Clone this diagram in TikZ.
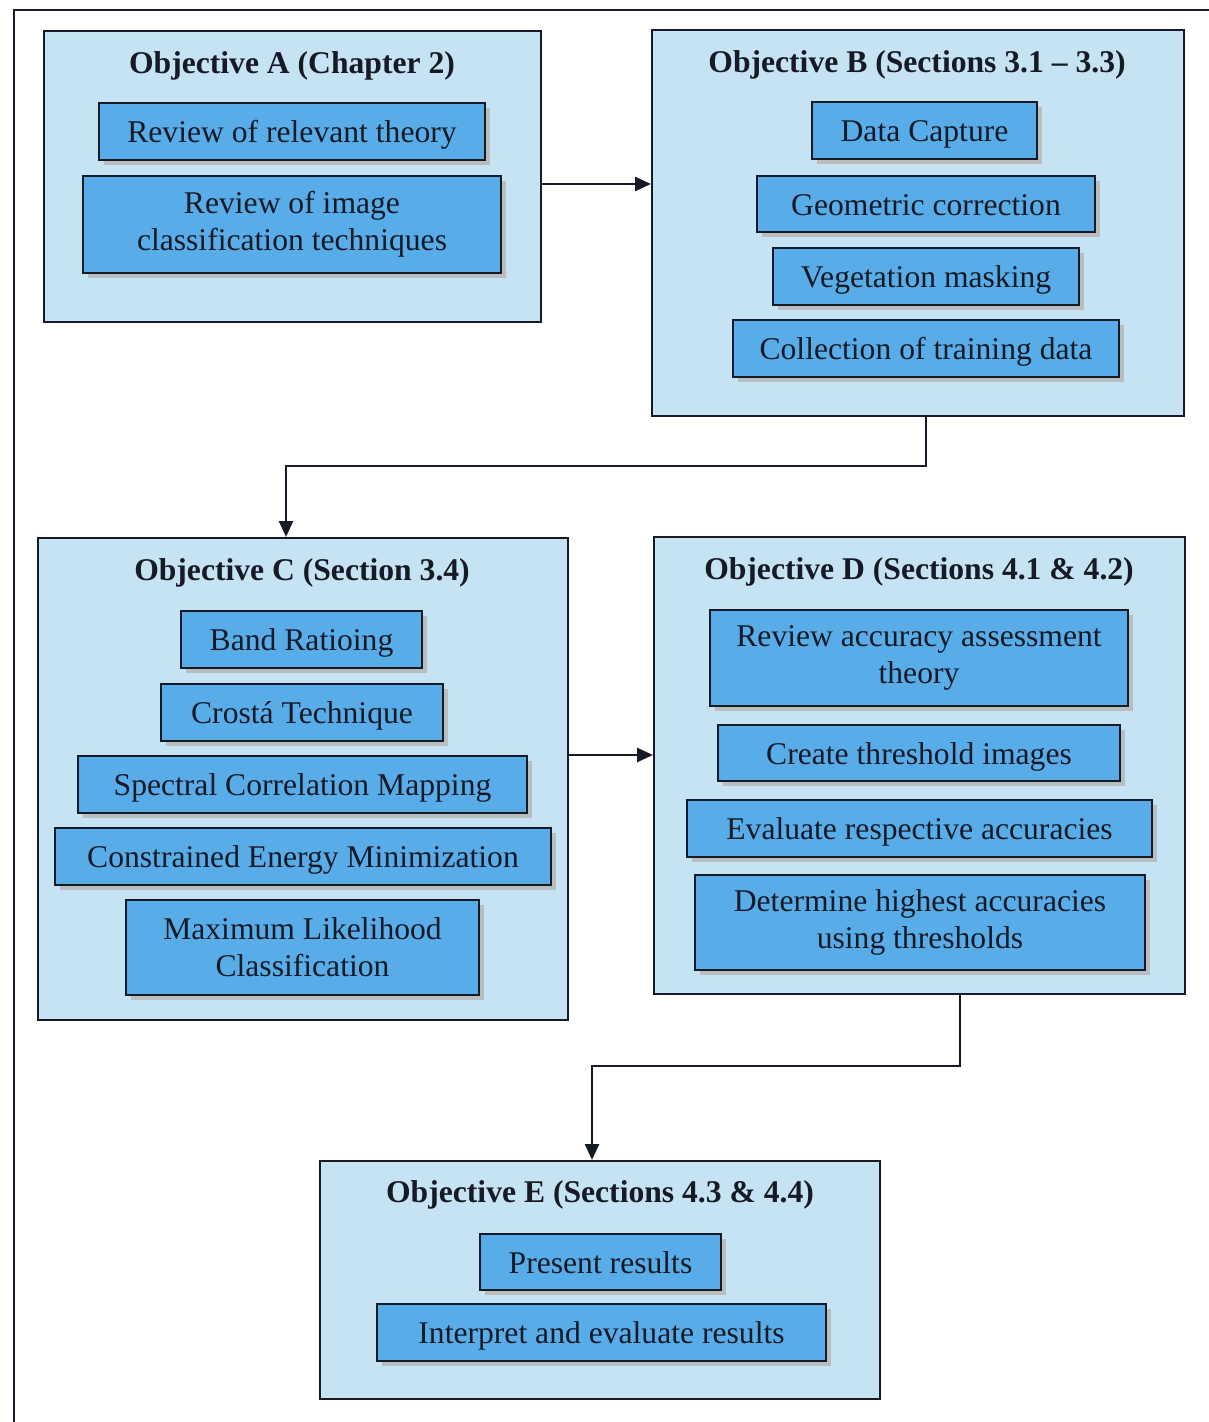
\documentclass[tikz,border=0pt]{standalone}
\usepackage{fontspec}
\setmainfont{Liberation Serif}
\usetikzlibrary{shadows,arrows.meta}

\definecolor{paleblue}{RGB}{198,227,243}
\definecolor{taskblue}{RGB}{88,172,232}
\definecolor{inkdark}{RGB}{22,26,38}

\begin{document}
\begin{tikzpicture}[x=0.02cm, y=-0.02cm,
    objective/.style={draw=inkdark, line width=1.3pt, fill=paleblue, inner sep=0pt},
    taskbase/.style={draw=inkdark, line width=1.3pt, fill=taskblue, inner sep=2pt, align=center,
        text=inkdark, font=\fontsize{18}{21}\selectfont,
        drop shadow={shadow xshift=3pt, shadow yshift=-3pt, fill=gray!55, opacity=.9}},
    task/.style={taskbase, text height=16pt, text depth=3pt},
    tasktall/.style={taskbase, execute at begin node={\rule{0pt}{16pt}}},
    heading/.style={font=\fontsize{18}{21}\selectfont\bfseries, text=inkdark},
    flow/.style={draw=inkdark, line width=1.2pt, -{Triangle[length=9pt,width=8pt]}}]
            \useasboundingbox (0,0) rectangle (1209,1422);
            \clip (0,0) rectangle (1209,1422);
            \draw[inkdark, line width=1pt] (14,10) rectangle (1260,1480);
            % objectives
            \node[objective, minimum width=9.94cm, minimum height=5.82cm] (objA) at (292.5,176.5) {};
            \node[objective, minimum width=10.64cm, minimum height=7.72cm] (objB) at (918,223) {};
            \node[objective, minimum width=10.6cm, minimum height=9.64cm] (objC) at (303,779) {};
            \node[objective, minimum width=10.62cm, minimum height=9.14cm] (objD) at (919.5,765.5) {};
            \node[objective, minimum width=11.2cm, minimum height=4.76cm] (objE) at (600,1280) {};
            \node[heading] (titleA) at (292,66) {Objective A (Chapter 2)};
            \node[heading] (titleB) at (917,65) {Objective B (Sections 3.1 -- 3.3)};
            \node[heading] (titleC) at (302,573) {Objective C (Section 3.4)};
            \node[heading] (titleD) at (919,572) {Objective D (Sections 4.1 \& 4.2)};
            \node[heading] (titleE) at (600,1195) {Objective E (Sections 4.3 \& 4.4)};
            % tasks
            \node[task, minimum width=7.72cm, minimum height=1.14cm] (taskA1) at (292,131.5) {Review of relevant theory};
            \node[tasktall, minimum width=8.36cm, minimum height=1.94cm] (taskA2) at (292,224.5) {Review of image\\classification techniques};
            \node[task, minimum width=4.5cm, minimum height=1.14cm] (taskB1) at (924.5,130.5) {Data Capture};
            \node[task, minimum width=6.76cm, minimum height=1.12cm] (taskB2) at (926,204) {Geometric correction};
            \node[task, minimum width=6.12cm, minimum height=1.14cm] (taskB3) at (926,276.5) {Vegetation masking};
            \node[task, minimum width=7.72cm, minimum height=1.14cm] (taskB4) at (926,348.5) {Collection of training data};
            \node[task, minimum width=4.82cm, minimum height=1.14cm] (taskC1) at (301.5,639.5) {Band Ratioing};
            \node[task, minimum width=5.64cm, minimum height=1.14cm] (taskC2) at (302,712.5) {Crost\'a Technique};
            \node[task, minimum width=8.98cm, minimum height=1.14cm] (taskC3) at (302.5,784.5) {Spectral Correlation Mapping};
            \node[task, minimum width=9.92cm, minimum height=1.14cm] (taskC4) at (303,856.5) {Constrained Energy Minimization};
            \node[tasktall, minimum width=7.06cm, minimum height=1.9cm] (taskC5) at (302.5,947.5) {Maximum Likelihood\\Classification};
            \node[tasktall, minimum width=8.36cm, minimum height=1.92cm] (taskD1) at (919,658) {Review accuracy assessment\\theory};
            \node[task, minimum width=8.04cm, minimum height=1.12cm] (taskD2) at (919,753) {Create threshold images};
            \node[task, minimum width=9.3cm, minimum height=1.14cm] (taskD3) at (919.5,828.5) {Evaluate respective accuracies};
            \node[tasktall, minimum width=9.0cm, minimum height=1.9cm] (taskD4) at (920,922.5) {Determine highest accuracies\\using thresholds};
            \node[task, minimum width=4.82cm, minimum height=1.12cm] (taskE1) at (600.5,1262) {Present results};
            \node[task, minimum width=8.98cm, minimum height=1.14cm] (taskE2) at (601.5,1332.5) {Interpret and evaluate results};
            % flow
            \draw[flow] ([yshift=-0.15cm]objA.east) -- ([yshift=-0.15cm]objA.east -| objB.west);
            \draw[flow] ([xshift=0.16cm]objB.south) -- ++(0,49) -| ([xshift=-0.34cm]objC.north);
            \draw[flow] ([yshift=0.48cm]objC.east) -- ([yshift=0.48cm]objC.east -| objD.west);
            \draw[flow] ([xshift=0.81cm]objD.south) -- ++(0,71) -| ([xshift=-0.16cm]objE.north);
        \end{tikzpicture}
\end{document}
